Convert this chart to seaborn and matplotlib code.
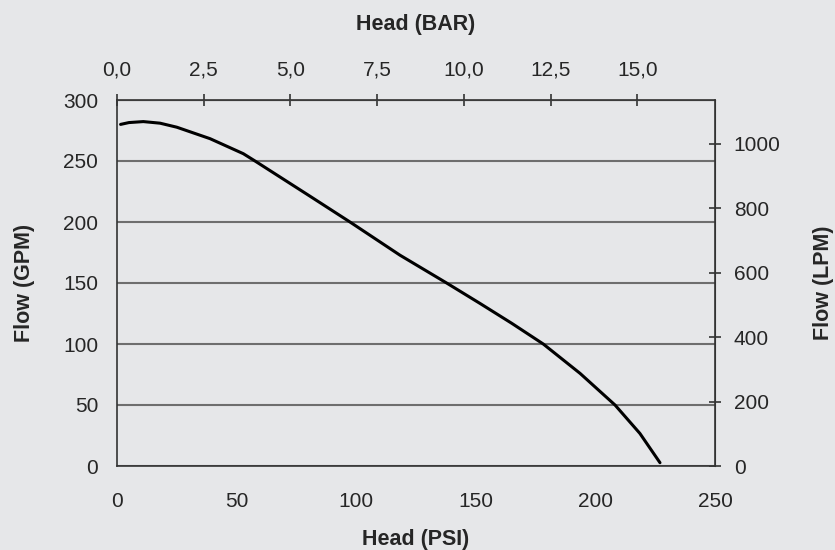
import pandas as pd
import numpy as np
import seaborn as sns
import matplotlib.pyplot as plt
from matplotlib.ticker import FuncFormatter

# pontos (Head em PSI, Flow em GPM)
head_psi = [1.5, 5, 11, 18, 25, 38.9, 52.8, 57.7, 80, 97.4, 118.3, 137.8, 151.8, 165, 178.2, 193.6, 208.2, 218.6, 227]
flow_gpm = [280, 281.5, 282.3, 281, 277.7, 268.3, 256, 250, 222, 200, 172.8, 150, 133.2, 117, 100, 75.9, 50, 26.7, 2.7]

psi_ticks = [0, 50, 100, 150, 200, 250]
gpm_ticks = [0, 50, 100, 150, 200, 250, 300]
bar_ticks = [0, 2.5, 5, 7.5, 10, 12.5, 15]
lpm_ticks = [0, 200, 400, 600, 800, 1000]

PSI_POR_BAR = 14.5038
LPM_POR_GPM = 3.78541

df = pd.DataFrame({'psi': head_psi, 'gpm': flow_gpm})

fundo = '#e6e7e9'
sns.set_style('white', {'axes.facecolor': fundo, 'figure.facecolor': fundo})
plt.rcParams['font.family'] = ['Liberation Sans', 'DejaVu Sans']

fig = plt.figure(figsize=(8.35, 5.5), dpi=100)
ax = fig.add_axes([117 / 835, 1 - 466 / 550, (715 - 117) / 835, (466 - 100) / 550])

sns.lineplot(data=df, x='psi', y='gpm', ax=ax, color='black', linewidth=2.2, zorder=5)

ax.set_xlim(0, 250)
ax.set_ylim(0, 300)
ax.set_xticks(psi_ticks)
ax.set_yticks(gpm_ticks)

# linhas de grade horizontais
for v in gpm_ticks:
    ax.axhline(v, color='#6e6e6e', linewidth=1.5, zorder=1)

for s in ax.spines.values():
    s.set_color('#333333')
    s.set_linewidth(1.2)
    s.set_visible(True)

ax.tick_params(direction='inout', length=9, width=1.2, color='#333333',
               labelsize=15, pad=9)
ax.tick_params(axis='x', pad=14)

ax.set_xlabel('Head (PSI)', fontsize=15.5, fontweight='bold', labelpad=13.5)
ax.set_ylabel('Flow (GPM)', fontsize=15.5, fontweight='bold', labelpad=20.5)

# eixo de cima em BAR
sec_x = ax.secondary_xaxis('top', functions=(lambda p: p / PSI_POR_BAR, lambda b: b * PSI_POR_BAR))
sec_x.set_xticks(bar_ticks)
sec_x.xaxis.set_major_formatter(FuncFormatter(lambda v, p: f'{v:.1f}'.replace('.', ',')))
sec_x.tick_params(direction='inout', length=9, width=1.2, color='#333333', labelsize=15, pad=10)
sec_x.set_xlabel('Head (BAR)', fontsize=15.5, fontweight='bold', labelpad=22)
sec_x.spines['top'].set_color('#333333')

# eixo da direita em LPM
sec_y = ax.secondary_yaxis('right', functions=(lambda g: g * LPM_POR_GPM, lambda l: l / LPM_POR_GPM))
sec_y.set_yticks(lpm_ticks)
sec_y.tick_params(direction='inout', length=9, width=1.2, color='#333333', labelsize=15, pad=9)
sec_y.set_ylabel('Flow (LPM)', fontsize=15.5, fontweight='bold', labelpad=23.5)
sec_y.spines['right'].set_color('#333333')

fig.savefig('out.png', dpi=100, facecolor=fundo)
